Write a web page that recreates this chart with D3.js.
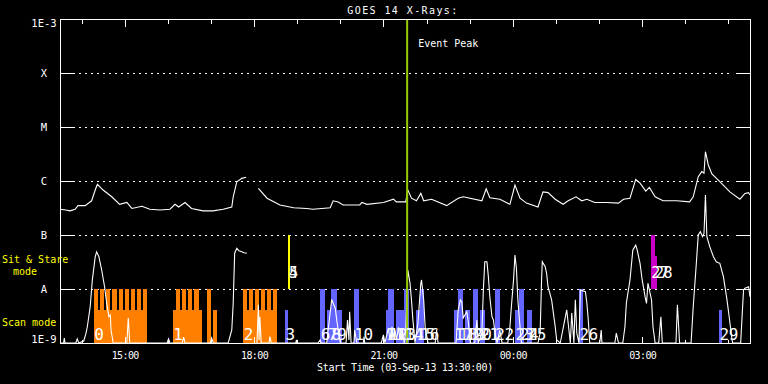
<!DOCTYPE html>
<html><head><meta charset="utf-8">
<script src="https://cdn.jsdelivr.net/npm/d3@7"></script>
<style>
html,body{margin:0;padding:0;background:#000;}
svg{display:block;}
text{font-family:"DejaVu Sans Mono",monospace;fill:#fff;}
</style></head>
<body>
<script>
// ---------------- data ----------------
const title = "GOES 14 X-Rays:";
const xAxisTitle = "Start Time (03-Sep-13 13:30:00)";
const startTime = "13:30", endTime = "05:30";
const majorTickLabels = ["15:00","18:00","21:00","00:00","03:00"];
const yTickValues = [1e-9,1e-8,1e-7,1e-6,1e-5,1e-4,1e-3];
const yTickLabels = ["1E-9","A","B","C","M","X","1E-3"];
const eventPeak = "21:33";

// GOES long channel (1-8 A), W/m^2 ; null = data gap
const longChannel = [
["13:30",3.0e-7],["13:38",2.9e-7],["13:44",2.8e-7],["13:51",3.0e-7],["13:55",3.5e-7],["14:05",3.5e-7],
["14:14",4.3e-7],["14:19",6.8e-7],["14:22",8.7e-7],["14:30",6.8e-7],["14:42",5.1e-7],["14:53",3.7e-7],
["15:03",4.0e-7],["15:10",3.1e-7],["15:24",3.4e-7],["15:35",3.0e-7],["15:49",2.9e-7],["16:03",3.0e-7],
["16:10",3.7e-7],["16:15",3.3e-7],["16:24",4.0e-7],["16:33",3.1e-7],["16:49",2.8e-7],["17:03",2.8e-7],
["17:17",3.0e-7],["17:29",3.3e-7],["17:31",5.1e-7],["17:36",9.7e-7],["17:43",1.12e-6],["17:49",1.17e-6],
["17:57",null],
["18:06",7.3e-7],["18:18",4.8e-7],["18:36",3.6e-7],["18:55",3.2e-7],["19:13",3.1e-7],["19:22",3.0e-7],
["19:46",3.2e-7],["19:50",4.3e-7],["19:57",4.1e-7],["20:04",3.6e-7],["20:27",3.6e-7],["20:30",4.0e-7],
["20:37",3.7e-7],["21:00",4.0e-7],["21:14",4.6e-7],["21:18",4.1e-7],["21:31",4.1e-7],["21:34",6.8e-7],
["21:39",4.8e-7],["21:46",4.3e-7],["21:52",5.9e-7],["21:56",4.3e-7],["22:07",4.6e-7],["22:28",3.5e-7],
["22:44",4.8e-7],["22:51",5.1e-7],["23:17",4.3e-7],["23:23",7.2e-7],["23:28",4.9e-7],["23:42",4.6e-7],
["23:56",3.7e-7],["00:03",8.4e-7],["00:10",4.8e-7],["00:19",3.9e-7],["00:35",3.3e-7],["00:42",6.3e-7],
["00:49",6.1e-7],["00:59",4.6e-7],["01:10",3.7e-7],["01:17",4.3e-7],["01:28",5.1e-7],["01:36",4.3e-7],
["01:43",4.6e-7],["01:54",4.0e-7],["02:11",4.0e-7],["02:27",3.9e-7],["02:34",4.6e-7],["02:43",4.8e-7],
["02:51",1.07e-6],["02:57",9.1e-7],["03:05",6.5e-7],["03:10",7.6e-7],["03:18",5.1e-7],["03:29",4.3e-7],
["03:48",4.3e-7],["04:06",4.1e-7],["04:11",5.1e-7],["04:18",1.2e-6],["04:23",1.49e-6],["04:26",1.39e-6],
["04:28",3.49e-6],["04:32",1.98e-6],["04:37",1.35e-6],["04:48",9.7e-7],["05:02",6.3e-7],["05:16",4.6e-7],
["05:23",5.9e-7],["05:28",6.1e-7],["05:30",5.5e-7]
];

// GOES short channel (0.5-4 A), W/m^2 ; values under 1E-9 sit on the floor
const shortChannel = [
["13:30",5e-10],["13:35",5e-10],["13:36",1.24e-9],["13:37",5e-10],["13:52",5e-10],["13:54",1.19e-9],["13:56",5e-10],
["14:03",1.09e-9],["14:06",1.47e-9],["14:08",2.0e-9],["14:12",4.7e-9],["14:15",1.47e-8],["14:19",3.96e-8],
["14:21",4.9e-8],["14:24",4.0e-8],["14:28",2.25e-8],["14:32",1.1e-8],["14:35",5.4e-9],["14:38",3.07e-9],
["14:40",3.3e-9],["14:41",1.74e-9],["14:44",5e-10],["15:03",5e-10],["15:05",2.9e-9],["15:07",5e-10],
["15:59",5e-10],["16:01",1.19e-9],["16:03",5e-10],["16:20",5e-10],["16:22",1.29e-9],["16:24",5e-10],
["16:59",5e-10],["17:01",1.24e-9],["17:03",5e-10],["17:24",5e-10],["17:29",1.74e-9],["17:31",5.5e-9],
["17:33",4.6e-8],["17:36",5.7e-8],["17:39",5.1e-8],["17:43",4.9e-8],["17:46",4.7e-8],["17:50",4.6e-8],
["17:57",null],
["18:04",5e-10],["18:05",2.07e-9],["18:06",5.1e-9],["18:07",1.14e-9],["18:08",3.07e-9],["18:10",5e-10],
["18:21",5e-10],["18:22",1.31e-9],["18:24",5e-10],["18:58",5e-10],["18:59",1.14e-9],["19:00",5e-10],
["19:29",5e-10],["19:32",1.14e-9],["19:33",5e-10],["19:41",5e-10],["19:45",2.9e-9],["19:48",6.4e-9],
["19:50",5.5e-9],["19:53",4.4e-9],["19:55",2.67e-9],["19:57",1.74e-9],["20:00",5e-10],["20:08",5e-10],
["20:10",2.67e-9],["20:12",1.14e-9],["20:13",3.8e-9],["20:15",5e-10],["20:19",5e-10],["20:20",1.74e-9],
["20:23",5e-10],["20:32",5e-10],["20:33",1.31e-9],["20:34",5e-10],["20:57",5e-10],["21:00",1.41e-9],
["21:02",5e-10],["21:07",1.9e-9],["21:09",1.14e-9],["21:12",2.0e-9],["21:13",1.24e-9],["21:16",1.74e-9],
["21:18",1.14e-9],["21:21",1.95e-9],["21:23",1.14e-9],["21:26",1.74e-9],["21:29",5e-10],["21:31",1.74e-9],
["21:34",2.25e-8],["21:37",1.28e-8],["21:39",6.3e-9],["21:41",2.67e-9],["21:44",5e-10],["21:48",2.35e-9],
["21:52",1.28e-8],["21:53",1.47e-8],["21:56",6.3e-9],["21:58",2.0e-9],["22:02",5e-10],["22:12",5e-10],
["22:14",1.74e-9],["22:16",5e-10],["22:41",5e-10],["22:44",4.1e-9],["22:47",6.3e-9],["22:49",5.8e-9],
["22:51",2.9e-9],["22:56",3.8e-9],["22:58",2.48e-9],["23:01",5e-10],["23:07",5e-10],["23:10",2.67e-9],
["23:12",5e-10],["23:17",1.53e-9],["23:19",9.6e-9],["23:21",3.2e-8],["23:24",3.2e-8],["23:26",1.69e-8],
["23:28",7.2e-9],["23:31",3.07e-9],["23:33",2.67e-9],["23:35",1.62e-9],["23:38",5e-10],["23:42",1.74e-9],
["23:45",5e-10],["23:53",5e-10],["23:56",2.0e-9],["23:58",4.7e-9],["00:01",1.47e-8],["00:03",4.26e-8],
["00:05",2.42e-8],["00:07",6.3e-9],["00:10",2.0e-9],["00:12",5e-10],["00:35",5e-10],["00:38",1.53e-9],
["00:40",1.47e-8],["00:41",3.2e-8],["00:45",2.59e-8],["00:47",1.95e-8],["00:49",1.1e-8],["00:54",6.3e-9],
["00:59",2.0e-9],["01:01",1.14e-9],["01:06",5e-10],["01:15",4.1e-9],["01:17",2.35e-9],["01:20",5e-10],
["01:22",3.6e-9],["01:25",5e-10],["01:27",6.3e-9],["01:29",1.53e-9],["01:32",5e-10],["01:34",9.6e-9],
["01:41",8.9e-9],["01:43",5.5e-9],["01:45",2.67e-9],["01:47",5e-10],["02:01",5e-10],["02:03",1.74e-9],
["02:04",5e-10],["02:22",5e-10],["02:24",1.53e-9],["02:27",5e-10],["02:33",5e-10],["02:36",2.0e-9],
["02:38",5.5e-9],["02:43",1.47e-8],["02:47",5.3e-8],["02:51",6.5e-8],["02:53",5.3e-8],["02:57",2.99e-8],
["03:00",1.47e-8],["03:04",7.2e-9],["03:06",5.4e-9],["03:08",1.28e-8],["03:11",8.3e-9],["03:13",6.3e-9],
["03:15",2.0e-9],["03:18",5e-10],["03:23",5e-10],["03:26",3.07e-9],["03:28",5e-10],["03:47",5e-10],
["03:49",5.1e-9],["03:52",5e-10],["04:08",5e-10],["04:11",4.7e-9],["04:15",2.59e-8],["04:18",1.0e-7],
["04:21",1.15e-7],["04:24",9.3e-8],["04:26",1.07e-7],["04:28",5.5e-7],["04:30",9.3e-8],["04:34",6.1e-8],
["04:39",4.0e-8],["04:43",3.2e-8],["04:48",2.99e-8],["04:53",1.69e-8],["04:58",6.3e-9],["05:01",3.07e-9],
["05:05",1.14e-9],["05:06",5e-10],["05:17",5e-10],["05:21",9.6e-9],["05:23",1.03e-8],["05:28",1.1e-8],
["05:30",7.2e-9]
];

// observation bars: [start, end, fill fraction of band (1 = full, 0.61 = half), mode, group]
const orangeBars = [
["14:17","15:31",0.61],["14:17","14:23",1],["14:26","14:31",1],["14:34","14:40",1],["14:43","14:49",1],
["14:52","14:57",1],["15:00","15:06",1],["15:09","15:14",1],["15:17","15:23",1],["15:25","15:31",1],
["16:07","16:48",0.61],["16:11","16:17",1],["16:20","16:25",1],["16:28","16:34",1],["16:37","16:43",1],
["16:55","17:00",1],["17:03","17:08",0.61],
["17:45","18:32",0.61],["17:45","17:50",1],["17:53","17:59",1],["18:01","18:07",1],["18:10","18:15",1],
["18:18","18:24",1],["18:26","18:32",1]
];
const blueBars = [
["18:43","18:47",0.61],["19:32","19:38",1],["19:42","19:47",0.61],["19:47","19:55",1],["19:55","20:03",0.61],
["20:19","20:26",1],["21:03","21:07",0.61],["21:07","21:15",1],["21:18","21:28",0.61],["21:29","21:35",1],
["21:45","21:51",0.61],["21:51","21:56",1],["22:38","22:44",0.61],["22:44","22:51",1],["22:54","23:01",0.61],
["23:04","23:12",1],["23:14","23:21",0.61],["23:35","23:42",1],["00:03","00:09",0.61],["00:09","00:15",1],
["00:20","00:27",0.61],["01:32","01:38",1],["04:47","04:51",0.61]
];
const yellowSitStare = [["18:47","18:50",1]];
const magentaSitStare = [["03:12","03:18",1],["03:18","03:21",0.61]];

// observation numbers: [label, start, mode]
const obsLabels = [
["0","14:17","scan"],["1","16:07","scan"],["2","17:45","scan"],["3","18:43","scan"],
["4","18:48","sit"],["5","18:48","sit"],["6","19:32","scan"],["7","19:42","scan"],["8","19:47","scan"],
["9","19:55","scan"],["10","20:19","scan"],["11","21:03","scan"],["12","21:07","scan"],["13","21:18","scan"],
["14","21:29","scan"],["15","21:45","scan"],["16","21:51","scan"],["17","22:38","scan"],["18","22:44","scan"],
["19","22:54","scan"],["20","23:04","scan"],["21","23:14","scan"],["22","23:35","scan"],["23","00:03","scan"],
["24","00:09","scan"],["25","00:20","scan"],["26","01:32","scan"],["27","03:12","sit"],["28","03:17","sit"],
["29","04:47","scan"]
];

// ---------------- drawing ----------------
const W = 768, H = 384;
const parseT = s => { const [h, m] = s.split(":").map(Number); return new Date(Date.UTC(2013, 8, h < 12 ? 4 : 3, h, m)); };
const x = d3.scaleUtc().domain([parseT(startTime), parseT(endTime)]).range([60, 750]);
const y = d3.scaleLog().domain([1e-9, 1e-3]).range([343, 19]).clamp(true);
const scanBase = 1e-9, sitBase = 1e-8;

const svg = d3.select("body").append("svg").attr("width", W).attr("height", H);
svg.append("rect").attr("width", W).attr("height", H).attr("fill", "#000");

// dotted grid levels
const grid = svg.append("g").attr("shape-rendering", "crispEdges");
grid.selectAll("line").data(yTickValues.slice(1, -1)).join("line")
  .attr("x1", 79).attr("x2", 733).attr("y1", d => y(d) + 0.5).attr("y2", d => y(d) + 0.5)
  .attr("stroke", "#fff").attr("stroke-width", 1).attr("stroke-dasharray", "2,4");

// bars
function drawBars(data, base, color) {
  svg.append("g").attr("shape-rendering", "crispEdges").selectAll("rect").data(data).join("rect")
    .attr("x", d => x(parseT(d[0])))
    .attr("width", d => Math.max(1, x(parseT(d[1])) - x(parseT(d[0]))))
    .attr("y", d => y(base * Math.pow(10, d[2])))
    .attr("height", d => y(base) - y(base * Math.pow(10, d[2])))
    .attr("fill", color);
}
drawBars(orangeBars, scanBase, "#ff8000");
drawBars(blueBars, scanBase, "#6464ff");
drawBars(yellowSitStare, sitBase, "#ffff00");
drawBars(magentaSitStare, sitBase, "#c800c8");

// curves
const line = d3.line().defined(d => d[1] != null).x(d => x(parseT(d[0]))).y(d => y(d[1]));
svg.append("path").datum(longChannel).attr("d", line).attr("fill", "none").attr("stroke", "#fff").attr("stroke-width", 1.1);
svg.append("path").datum(shortChannel).attr("d", line).attr("fill", "none").attr("stroke", "#fff").attr("stroke-width", 1.1);

// event peak
svg.append("line").attr("x1", x(parseT(eventPeak))).attr("x2", x(parseT(eventPeak)))
  .attr("y1", 19).attr("y2", 343).attr("stroke", "#99cc00").attr("stroke-width", 2);
svg.append("text").attr("x", x(parseT(eventPeak)) + 11).attr("y", 46.5).attr("font-size", 10).text("Event Peak");

// frame
const frame = svg.append("g").attr("shape-rendering", "crispEdges").attr("stroke", "#fff").attr("stroke-width", 1);
frame.append("rect").attr("x", 60.5).attr("y", 19.5).attr("width", 690).attr("height", 324).attr("fill", "none");

// y ticks (both sides) and labels
frame.selectAll(".yl").data(yTickValues.slice(1, -1)).join("line")
  .attr("x1", 60).attr("x2", 75).attr("y1", d => y(d) + 0.5).attr("y2", d => y(d) + 0.5);
frame.selectAll(".yr").data(yTickValues.slice(1, -1)).join("line").attr("class", "yr")
  .attr("x1", 736).attr("x2", 750).attr("y1", d => y(d) + 0.5).attr("y2", d => y(d) + 0.5);
svg.selectAll(".ylab").data(yTickValues).join("text").attr("class", "ylab")
  .attr("x", 44).attr("y", d => y(d))
  .attr("dy", (d, i) => i === 0 ? "0em" : (i === yTickValues.length - 1 ? "0.76em" : "0.38em"))
  .attr("text-anchor", "middle").attr("font-size", 10.5)
  .text((d, i) => yTickLabels[i]);

// time axes
const minorTicks = x.ticks(d3.utcHour.every(1));
const majorTicks = majorTickLabels.map(parseT);
function timeAxis(gen, yPos, size, values, withLabels) {
  const g = svg.append("g").attr("transform", `translate(0,${yPos})`).attr("shape-rendering", "crispEdges")
    .call(gen(x).tickValues(values).tickSize(size).tickPadding(8.5)
      .tickFormat(withLabels ? d3.utcFormat("%H:%M") : () => ""));
  g.select(".domain").remove();
  g.selectAll("line").attr("stroke", "#fff");
  g.selectAll("text").attr("fill", "#fff").attr("font-size", 10)
    .attr("font-family", "DejaVu Sans Mono, monospace").attr("letter-spacing", -0.6);
  return g;
}
timeAxis(d3.axisTop, 19.5, -4, minorTicks, false);
timeAxis(d3.axisTop, 19.5, -7, majorTicks, false);
timeAxis(d3.axisBottom, 343.5, -4, minorTicks, false);
timeAxis(d3.axisBottom, 343.5, -7, majorTicks, true);

// observation numbers
svg.append("g").selectAll("text").data(obsLabels).join("text")
  .attr("x", d => x(parseT(d[1])) + 0.5)
  .attr("y", d => d[2] === "scan" ? 339.5 : 277.5)
  .attr("font-size", d => d[2] === "scan" ? 16 : 15)
  .attr("letter-spacing", -0.5)
  .text(d => d[0]);

// titles
svg.append("text").attr("x", 403).attr("y", 14).attr("text-anchor", "middle")
  .attr("font-size", 10).attr("letter-spacing", 1.4).text(title);
svg.append("text").attr("x", 405).attr("y", 371).attr("text-anchor", "middle")
  .attr("font-size", 10).attr("letter-spacing", -0.35).text(xAxisTitle);
svg.append("text").attr("x", 2).attr("y", 263).attr("font-size", 10).attr("fill", "#ffff00")
  .style("fill", "#ffff00").text("Sit & Stare");
svg.append("text").attr("x", 13).attr("y", 275).attr("font-size", 10)
  .style("fill", "#ffff00").text("mode");
svg.append("text").attr("x", 2).attr("y", 326).attr("font-size", 10)
  .style("fill", "#ffff00").text("Scan mode");
</script>
</body></html>
